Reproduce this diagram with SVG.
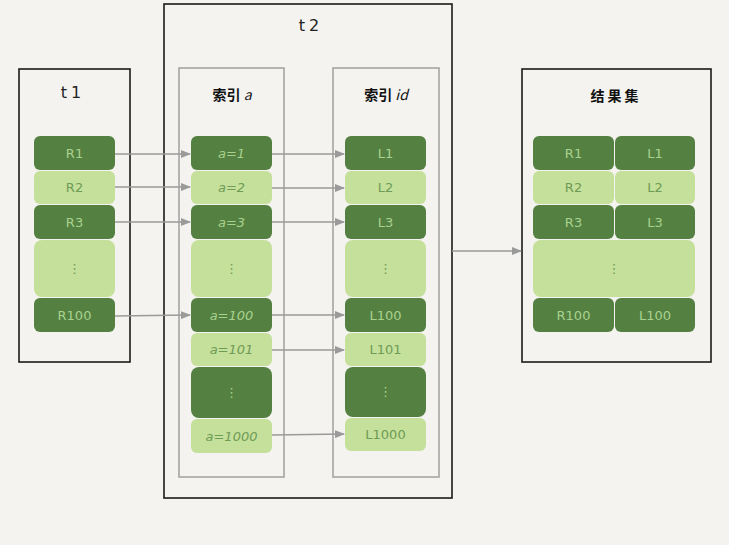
<svg xmlns="http://www.w3.org/2000/svg" width="729" height="545" viewBox="0 0 729 545">
<defs>
<style>
.bg{fill:#f4f3ef}
.frame{fill:none;stroke:#1a1a1a;stroke-width:1.6}
.idx{fill:none;stroke:#a0a0a0;stroke-width:1.5}
.d{fill:#548142}
.l{fill:#c5e09b}
.td{fill:#a9d18e;font-family:"DejaVu Sans",sans-serif;font-size:13px;text-anchor:middle;dominant-baseline:central}
.tl{fill:#6e9b55;font-family:"DejaVu Sans",sans-serif;font-size:13px;text-anchor:middle;dominant-baseline:central}
.ti{font-style:italic}
.title{fill:#222;font-family:"DejaVu Sans",sans-serif;font-size:16px;letter-spacing:4px;text-anchor:middle;dominant-baseline:central}
.cn{fill:#111;font-family:"Noto Sans CJK SC",sans-serif;font-size:14px;font-weight:bold;text-anchor:middle;dominant-baseline:central}
.ar{fill:none;stroke:#9a9a9a;stroke-width:1.4;marker-end:url(#ah)}
</style>
<marker id="ah" markerWidth="10" markerHeight="8" refX="9" refY="4" orient="auto" markerUnits="userSpaceOnUse">
<path d="M0,0 L10,4 L0,8 Z" fill="#9a9a9a"/>
</marker>
</defs>
<rect class="bg" x="0" y="0" width="729" height="545"/>

<g id="t1">
<rect class="frame" x="19" y="69" width="111" height="293"/>
<text class="title" x="73" y="92">t1</text>
<rect class="d" x="34" y="136" width="81" height="34" rx="6"/><text class="td" x="74.5" y="153">R1</text>
<rect class="l" x="34" y="171" width="81" height="33" rx="6"/><text class="tl" x="74.5" y="187.5">R2</text>
<rect class="d" x="34" y="205" width="81" height="34" rx="6"/><text class="td" x="74.5" y="222">R3</text>
<rect class="l" x="34" y="240" width="81" height="57" rx="8"/><text class="tl" x="74.5" y="268">⋮</text>
<rect class="d" x="34" y="298" width="81" height="34" rx="6"/><text class="td" x="74.5" y="315">R100</text>
</g>

<g id="t2">
<rect class="frame" x="164" y="4" width="288" height="494"/>
<text class="title" x="311" y="25">t2</text>
</g>

<g id="idx-a">
<rect class="idx" x="179" y="68" width="105" height="409"/>
<text class="cn" x="232" y="94">索引 <tspan font-style="italic" font-weight="normal">a</tspan></text>
<rect class="d" x="191" y="136" width="81" height="34" rx="6"/><text class="td ti" x="231.5" y="153">a=1</text>
<rect class="l" x="191" y="171" width="81" height="33" rx="6"/><text class="tl ti" x="231.5" y="187.5">a=2</text>
<rect class="d" x="191" y="205" width="81" height="34" rx="6"/><text class="td ti" x="231.5" y="222">a=3</text>
<rect class="l" x="191" y="240" width="81" height="57" rx="8"/><text class="tl" x="231.5" y="268">⋮</text>
<rect class="d" x="191" y="298" width="81" height="34" rx="6"/><text class="td ti" x="231.5" y="315">a=100</text>
<rect class="l" x="191" y="333" width="81" height="33" rx="6"/><text class="tl ti" x="231.5" y="349.5">a=101</text>
<rect class="d" x="191" y="367" width="81" height="51" rx="8"/><text class="td" x="231.5" y="392">⋮</text>
<rect class="l" x="191" y="419" width="81" height="34" rx="6"/><text class="tl ti" x="231.5" y="436">a=1000</text>
</g>

<g id="idx-id">
<rect class="idx" x="333" y="68" width="106" height="409"/>
<text class="cn" x="386" y="94">索引 <tspan font-style="italic" font-weight="normal">id</tspan></text>
<rect class="d" x="345" y="136" width="81" height="34" rx="6"/><text class="td" x="385.5" y="153">L1</text>
<rect class="l" x="345" y="171" width="81" height="33" rx="6"/><text class="tl" x="385.5" y="187.5">L2</text>
<rect class="d" x="345" y="205" width="81" height="34" rx="6"/><text class="td" x="385.5" y="222">L3</text>
<rect class="l" x="345" y="240" width="81" height="57" rx="8"/><text class="tl" x="385.5" y="268">⋮</text>
<rect class="d" x="345" y="298" width="81" height="34" rx="6"/><text class="td" x="385.5" y="315">L100</text>
<rect class="l" x="345" y="333" width="81" height="33" rx="6"/><text class="tl" x="385.5" y="349.5">L101</text>
<rect class="d" x="345" y="367" width="81" height="50" rx="8"/><text class="td" x="385.5" y="391">⋮</text>
<rect class="l" x="345" y="418" width="81" height="33" rx="6"/><text class="tl" x="385.5" y="434.5">L1000</text>
</g>

<g id="result">
<rect class="frame" x="522" y="69" width="189" height="293"/>
<text class="cn" x="616" y="95" letter-spacing="3">结果集</text>
<rect class="d" x="533" y="136" width="81" height="34" rx="6"/><text class="td" x="573.5" y="153">R1</text>
<rect class="d" x="615" y="136" width="80" height="34" rx="6"/><text class="td" x="655" y="153">L1</text>
<rect class="l" x="533" y="171" width="81" height="33" rx="6"/><text class="tl" x="573.5" y="187.5">R2</text>
<rect class="l" x="615" y="171" width="80" height="33" rx="6"/><text class="tl" x="655" y="187.5">L2</text>
<rect class="d" x="533" y="205" width="81" height="34" rx="6"/><text class="td" x="573.5" y="222">R3</text>
<rect class="d" x="615" y="205" width="80" height="34" rx="6"/><text class="td" x="655" y="222">L3</text>
<rect class="l" x="533" y="240" width="162" height="57" rx="8"/><text class="tl" x="614" y="268">⋮</text>
<rect class="d" x="533" y="298" width="81" height="34" rx="6"/><text class="td" x="573.5" y="315">R100</text>
<rect class="d" x="615" y="298" width="80" height="34" rx="6"/><text class="td" x="655" y="315">L100</text>
</g>

<g id="connectors">
<path class="ar" d="M115,154 H190"/>
<path class="ar" d="M115,187 H190"/>
<path class="ar" d="M115,222 H190"/>
<path class="ar" d="M115,316 L190,315"/>
<path class="ar" d="M272,154 H344"/>
<path class="ar" d="M272,188 H344"/>
<path class="ar" d="M272,222 H344"/>
<path class="ar" d="M272,315 H344"/>
<path class="ar" d="M272,350 H344"/>
<path class="ar" d="M272,435 L344,434"/>
<path class="ar" d="M452,251 H521"/>
</g>
</svg>
